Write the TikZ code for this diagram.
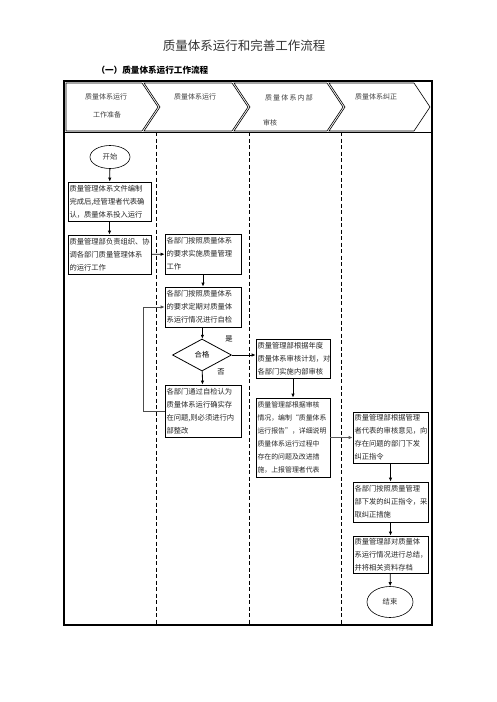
\documentclass[tikz,border=0pt]{standalone}
\usepackage{fontspec}
\setmainfont{Noto Sans CJK SC}
\usetikzlibrary{arrows.meta,shapes.geometric,positioning}
\tikzset{
  stepbox/.style={draw, line width=0.8pt, align=left, text width=73pt, inner xsep=1.5pt, inner ysep=1pt,
    font=\fontsize{7.3}{13}\selectfont, text=black!85},
  terminal/.style={draw, ellipse, line width=0.6pt, inner sep=0pt, font=\fontsize{7.3}{9}\selectfont, text=black!80},
  flow/.style={-{Latex[length=4pt,width=3.5pt]}, line width=0.8pt},
  lane/.style={line width=0.8pt, dash pattern=on 4pt off 2.5pt},
  phase/.style={line width=0.6pt},
  phasetext/.style={font=\fontsize{7}{9}\selectfont, text=black!75},
}
\begin{document}
\begin{tikzpicture}[x=1pt,y=-1pt]
	\useasboundingbox (0,0) rectangle (496,702);
	% titles
	\node[font=\fontsize{12.5}{14}\selectfont, text=black!80] (titel) at (244,46) {质量体系运行和完善工作流程};
	\node[font=\fontsize{8.6}{10}\selectfont\bfseries, anchor=west] (untertitel) at (93,70) {（一）质量体系运行工作流程};
	% frame and lanes
	\draw [line width=1.2pt] (64,81) rectangle (432,625);
	\draw [line width=0.8pt] (64,132) -- (432,132);
	\foreach \x in {156,249,341}
		\draw [lane] (\x,132) -- (\x,625);
	% phase chevrons
	\draw [phase] (66,83) -- (142,83) -- (158,107) -- (142,131) -- (66,131) -- cycle;
	\foreach \l/\r in {144/232, 234/327, 329/414}
		\draw [phase] (\l,83) -- (\r,83) -- (\r+16,107) -- (\r,131) -- (\l,131) -- (\l+16,107) -- cycle;
	\node[phasetext] (p1a) at (106,97) {质量体系运行};
	\node[phasetext] (p1b) at (107,115) {工作准备};
	\node[phasetext] (p2) at (195,97) {质量体系运行};
	\node[phasetext] (p3a) at (289,98) {质\,量\,体\,系\,内\,部};
	\node[phasetext] (p3b) at (270,123) {审核};
	\node[phasetext] (p4) at (376,97) {质量体系纠正};
	% steps
	\node[terminal, minimum width=40pt, minimum height=23pt] (kaishi) at (110,157) {开始};
	\node[stepbox, text width=80pt, minimum height=39pt] (wenjian) at (109.5,201.5) {质量管理体系文件编制\\完成后,经管理者代表确\\认，质量体系投入运行};
	\node[stepbox, text width=80pt, minimum height=39pt] (zuzhi) at (109.5,254.5) {质量管理部负责组织、协\\调各部门质量管理体系\\的运行工作};
	\node[stepbox, minimum height=40pt] (shishi) at (203,254) {各部门按照质量体系\\的要求实施质量管理\\工作};
	\node[stepbox, minimum height=40pt] (zijian) at (203,307) {各部门按照质量体系\\的要求定期对质量体\\系运行情况进行自检};
	\node[draw, diamond, aspect=1.84, line width=0.8pt, inner sep=0pt, minimum width=59pt, minimum height=32pt,
		font=\fontsize{7.3}{9}\selectfont] (hege) at (202,355) {合格};
	\node[font=\fontsize{7.3}{9}\selectfont] (shi) at (229,339) {是};
	\node[font=\fontsize{7.3}{9}\selectfont] (fou) at (221,372) {否};
	\node[stepbox, minimum height=52pt] (zhenggai) at (203,411) {各部门通过自检认为\\质量体系运行确实存\\在问题,则必须进行内\\部整改};
	\node[stepbox, text width=71pt, minimum height=39pt] (shenhe) at (293,358.5) {质量管理部根据年度\\质量体系审核计划，对\\各部门实施内部审核};
	\node[stepbox, text width=71pt, minimum height=79pt, font=\fontsize{6.9}{13}\selectfont] (baogao) at (293,437.5) {质量管理部根据审核\\情况，编制“质量体系\\运行报告”，详细说明\\质量体系运行过程中\\存在的问题及改进措\\施，上报管理者代表};
	\node[stepbox, text width=72pt, minimum height=51pt] (zhiling) at (390.5,437.5) {质量管理部根据管理\\者代表的审核意见，向\\存在问题的部门下发\\纠正指令};
	\node[stepbox, text width=72pt, minimum height=40pt] (cuoshi) at (390.5,502) {各部门按照质量管理\\部下发的纠正指令，采\\取纠正措施};
	\node[stepbox, text width=72pt, minimum height=37pt] (zongjie) at (390.5,554.5) {质量管理部对质量体\\系运行情况进行总结，\\并将相关资料存档};
	\node[terminal, minimum width=46pt, minimum height=31pt] (jieshu) at (390,602) {结束};
	% connectors
	\draw [flow] (kaishi) -- (wenjian);
	\draw [flow] (wenjian) -- (zuzhi);
	\draw [flow] (zuzhi) -- (shishi);
	\draw [flow] (shishi) -- (zijian);
	\draw [flow] (zijian) -- (hege);
	\draw [flow] (hege) -- (zhenggai);
	\draw [flow] (hege.east) -- (hege.east -| shenhe.west);
	\draw [flow, black!70] (zhenggai.west) -- ++(-21,0) |- (zijian.west);
	\draw [flow] (shenhe) -- (baogao);
	\draw [flow, black!65] (baogao) -- (zhiling);
	\draw [flow] (zhiling) -- (cuoshi);
	\draw [flow] (cuoshi) -- (zongjie);
	\draw [flow] (zongjie) -- (jieshu);
\end{tikzpicture}
\end{document}
